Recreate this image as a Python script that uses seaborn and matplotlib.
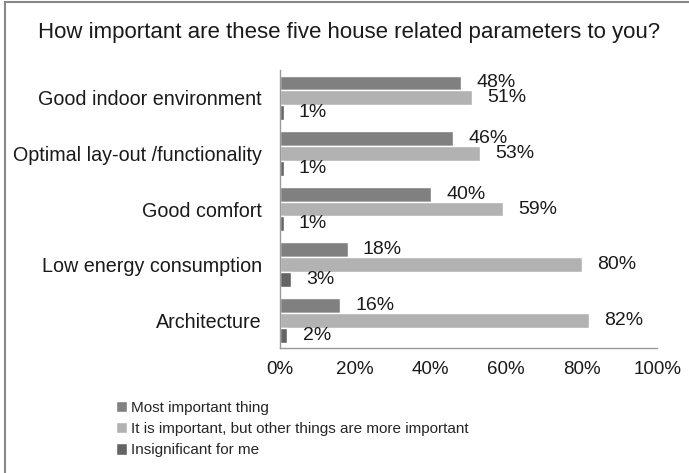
import matplotlib
matplotlib.use("Agg")
import matplotlib.pyplot as plt
import pandas as pd
import seaborn as sns
from matplotlib.patches import Rectangle

# survey answers, % of respondents
parameters = ['Good indoor environment', 'Optimal lay-out /functionality',
              'Good comfort', 'Low energy consumption', 'Architecture']
answers = ['Most important thing',
           'It is important, but other things are more important',
           'Insignificant for me']
most_important = [48, 46, 40, 18, 16]
important_but = [51, 53, 59, 80, 82]
insignificant = [1, 1, 1, 3, 2]
ticks = [0, 20, 40, 60, 80, 100]

colors = ['#808080', '#b2b2b2', '#646464']

rows = []
for i, p in enumerate(parameters):
    rows.append([p, answers[0], most_important[i]])
    rows.append([p, answers[1], important_but[i]])
    rows.append([p, answers[2], insignificant[i]])
df = pd.DataFrame(rows, columns=['parameter', 'answer', 'pct'])

sns.set_style('white')
plt.rcParams['font.family'] = ['Liberation Sans', 'DejaVu Sans']

fig = plt.figure(figsize=(6.89, 4.73), dpi=100)
ax = fig.add_axes([0.406, 0.264, 0.548, 0.588])

sns.barplot(data=df, y='parameter', x='pct', hue='answer', hue_order=answers,
            order=parameters, palette=colors, orient='h', width=0.8,
            saturation=1, ax=ax, legend=True)

for cont, vals in zip(ax.containers, [most_important, important_but, insignificant]):
    ax.bar_label(cont, labels=[f'{v}%' for v in vals], padding=11,
                 fontsize=14, color='#1a1a1a')

ax.set_xlim(0, 100)
ax.set_xticks(ticks)
ax.set_xticklabels([f'{t}%' for t in ticks], fontsize=13.5)
ax.tick_params(axis='y', labelsize=14.2, length=0, pad=13, colors='#1a1a1a')
ax.tick_params(axis='x', length=0, pad=9, colors='#1a1a1a')
ax.set_xlabel('')
ax.set_ylabel('')
for s in ['top', 'right']:
    ax.spines[s].set_visible(False)
for s in ['left', 'bottom']:
    ax.spines[s].set_color('#999999')
    ax.spines[s].set_linewidth(1)

ax.get_legend().remove()
handles, labels = ax.get_legend_handles_labels()
fig.legend(handles[:3], labels[:3], loc='upper left',
           bbox_to_anchor=(0.168, 0.153), frameon=False,
           prop={'size': 11},
           handlelength=0.75, handleheight=0.75, handletextpad=0.25,
           labelspacing=0.48, borderpad=0, borderaxespad=0)

fig.text(0.507, 0.932, 'How important are these five house related parameters to you?',
         ha='center', va='center', fontsize=16, color='#1a1a1a')

fig.patches.append(Rectangle((0.007, -0.01), 1.0, 1.006, transform=fig.transFigure,
                             fill=False, edgecolor='#888888', linewidth=1.5))

fig.savefig('out.png', dpi=100)
